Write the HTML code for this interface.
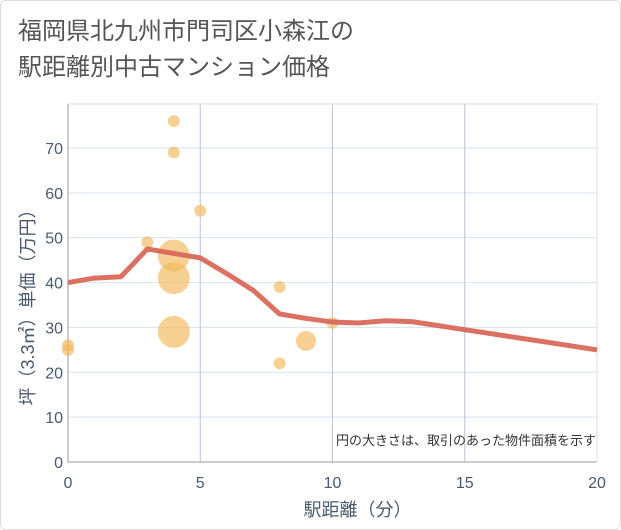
<!DOCTYPE html>
<html><head><meta charset="utf-8">
<style>
body{margin:0;background:#fff;font-family:"Liberation Sans","Noto Sans CJK JP",sans-serif;}
#wrap{position:relative;width:619px;height:528px;border:1px solid #ddd;border-radius:6px;overflow:hidden;background:#fff}
#title{position:absolute;left:17px;top:13px;font-size:24px;line-height:36px;color:#555;}
svg{position:absolute;left:0;top:0}
</style></head><body>
<div id="wrap">
<div id="title">福岡県北九州市門司区小森江の<br>駅距離別中古マンション価格</div>
<svg id="chart" width="621" height="530"></svg>
</div>
<script>
const bubbleX=[0,0,3,4,4,4,4,4,5,8,8,9,10];
const bubbleY=[26,25,49,76,69,46,41,29,56,39,22,27,31];
const bubbleR=[6,6,6,6,6,16,16,16,6,6,6,10,6];
const lineX=[0,1,2,3,4,5,6,7,8,9,10,11,12,13,14,15,16,17,18,19,20];
const lineY=[40,41,41.3,47.5,46.5,45.5,42,38.3,33,32,31.2,31,31.5,31.3,30.4,29.5,28.6,27.7,26.8,25.9,25];
const xTicks=[0,5,10,15,20];
const yTicks=[0,10,20,30,40,50,60,70];
const X0=67,X1=596,Y0=461,Ytop=103;
const sx=v=>X0+(X1-X0)*v/20;
const sy=v=>Y0-(Y0-147)*v/70;
const svg=document.getElementById('chart');
const NS='http://www.w3.org/2000/svg';
function mk(t,a){const e=document.createElementNS(NS,t);for(const k in a)e.setAttribute(k,a[k]);svg.appendChild(e);return e;}
yTicks.forEach(v=>{if(v>0){const l=mk('line',{x1:X0,x2:X1,y1:sy(v),y2:sy(v),stroke:'#d5e3ee','stroke-width':1});

}
const t=mk('text',{x:X0-5,y:sy(v)+6,'text-anchor':'end','font-size':16,fill:'#4a5a6e'});t.textContent=v;

});
xTicks.forEach(v=>{if(v>0&&v<20){const l=mk('line',{x1:sx(v),x2:sx(v),y1:Ytop,y2:Y0,stroke:'#b5c4d6','stroke-width':1});

}
const t=mk('text',{x:sx(v),y:Y0+26,'text-anchor':'middle','font-size':16,fill:'#4a5a6e'});t.textContent=v;

});
const ax=mk('path',{d:`M${X0} ${Ytop}V${Y0}H${X1}`,fill:'none',stroke:'#999','stroke-width':1});


const rb=mk('path',{d:`M${X0} ${Ytop}H${X1}V${Y0}`,fill:'none',stroke:'#ddd','stroke-width':1});


bubbleX.forEach((x,i)=>{const c=mk('circle',{cx:sx(x),cy:sy(bubbleY[i]),r:bubbleR[i],fill:'#f2b95a','fill-opacity':0.65});

});
const p=mk('polyline',{points:lineX.map((x,i)=>sx(x)+','+sy(lineY[i])).join(' '),fill:'none',stroke:'#d9695a','stroke-width':5,'stroke-linejoin':'round','stroke-opacity':0.95});


const n=mk('text',{x:595,y:444,'text-anchor':'end','font-size':13,fill:'#333'});n.textContent='円の大きさは、取引のあった物件面積を示す';


const xt=mk('text',{x:(X0+X1)/2+25,y:515,'text-anchor':'middle','font-size':18,fill:'#4a5a6e'});xt.textContent='駅距離（分）';


const yt=mk('text',{x:0,y:0,'text-anchor':'middle','font-size':18,fill:'#4a5a6e',transform:`translate(33,${(Ytop+Y0)/2+20}) rotate(-90)`});yt.textContent='坪（3.3㎡）単価（万円）';


</script>
</body></html>
